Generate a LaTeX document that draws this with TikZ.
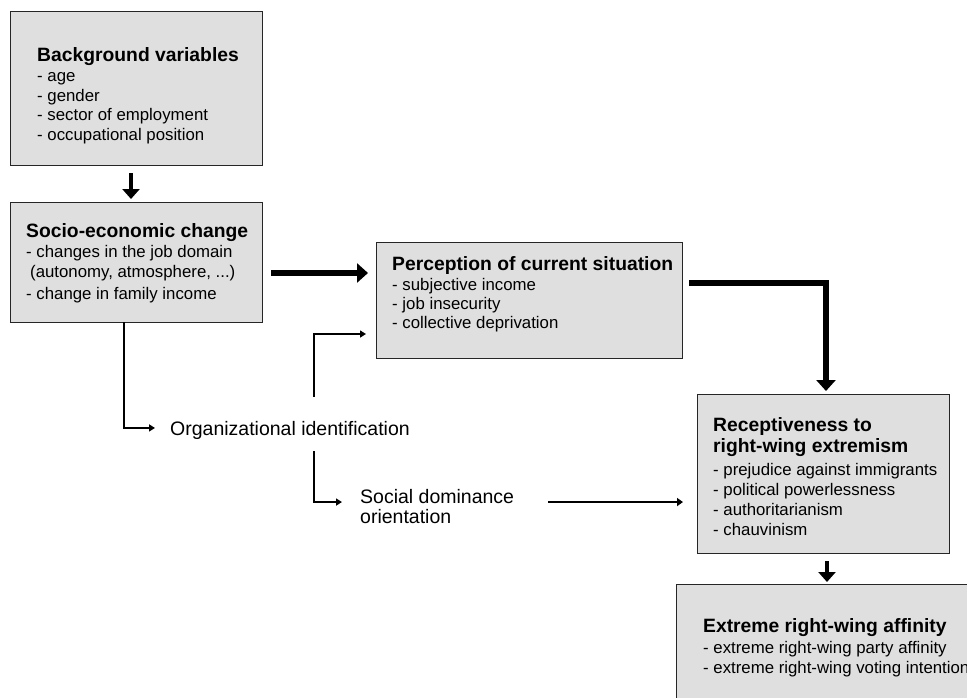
\documentclass[tikz,border=0pt]{standalone}
\usepackage{fontspec}
\setmainfont{Liberation Sans}
\usetikzlibrary{arrows.meta}
\definecolor{boxgray}{HTML}{DFDFDF}
\tikzset{
  box/.style={draw=black!85, fill=boxgray, line width=0.9pt, inner sep=0pt, outer sep=0pt},
  ttl/.style={anchor=base west, inner sep=0pt, font=\fontsize{19.3}{22}\selectfont\bfseries},
  itm/.style={anchor=base west, inner sep=0pt, font=\fontsize{16.8}{20}\selectfont},
  lbl/.style={anchor=base west, inner sep=0pt, font=\fontsize{19.5}{22}\selectfont},
  bigarrow/.style={line width=5.5pt, -{Triangle[width=19pt,length=11pt]}},
  downarrow/.style={line width=3.3pt, -{Triangle[width=17pt,length=10pt]}},
  thinarrow/.style={line width=1.7pt, -{Triangle[width=7pt,length=6pt]}},
  midarrow/.style={line width=2.3pt, -{Triangle[width=8pt,length=6pt]}}
}
\begin{document}
\begin{tikzpicture}[x=1pt,y=-1pt]
\useasboundingbox (0,0) rectangle (967,697);
\fill[white] (0,0) rectangle (967,697);

% boxes
\node[box, minimum width=252pt, minimum height=154pt] (bg) at (136,88) {};
\node[box, minimum width=252pt, minimum height=120pt] (soc) at (136,262) {};
\node[box, minimum width=306pt, minimum height=116pt] (per) at (529,300) {};
\node[box, minimum width=252pt, minimum height=159pt] (rec) at (823,473.5) {};
\node[box, minimum width=320pt, minimum height=140pt] (ext) at (836,654) {};

% background variables
\node[ttl] (bgt) at (37,61) {Background variables};
\node[itm] (bg1) at (37,81) {- age};
\node[itm] (bg2) at (37,101) {- gender};
\node[itm] (bg3) at (37,120.5) {- sector of employment};
\node[itm] (bg4) at (37,140) {- occupational position};

% socio-economic change
\node[ttl] (soct) at (26,237) {Socio-economic change};
\node[itm] (soc1) at (26,257.5) {- changes in the job domain};
\node[itm] (soc2) at (30,277) {(autonomy, atmosphere, ...)};
\node[itm] (soc3) at (26,299) {- change in family income};

% perception
\node[ttl] (pert) at (392,270) {Perception of current situation};
\node[itm] (per1) at (392,290) {- subjective income};
\node[itm] (per2) at (392,309) {- job insecurity};
\node[itm] (per3) at (392,328) {- collective deprivation};

% receptiveness
\node[ttl] (rect1) at (713,431) {Receptiveness to};
\node[ttl] (rect2) at (713,452.5) {right-wing extremism};
\node[itm] (rec1) at (713,475) {- prejudice against immigrants};
\node[itm] (rec2) at (713,495) {- political powerlessness};
\node[itm] (rec3) at (713,515) {- authoritarianism};
\node[itm] (rec4) at (713,535) {- chauvinism};

% extreme right-wing affinity
\node[ttl] (extt) at (703,632) {Extreme right-wing affinity};
\node[itm] (ext1) at (703,653.5) {- extreme right-wing party affinity};
\node[itm] (ext2) at (703,673) {- extreme right-wing voting intention};

% free labels
\node[lbl] (org) at (170,435) {Organizational identification};
\node[lbl] (sdo1) at (360,503) {Social dominance};
\node[lbl] (sdo2) at (360,523) {orientation};

% connectors
\draw[downarrow] ([xshift=-5pt,yshift=-8pt]bg.south) -- ([xshift=-5pt,yshift=3pt]soc.north);
\draw[bigarrow] ([xshift=9pt,yshift=-11pt]soc.east) -- ([xshift=-8pt,yshift=27pt]per.west);
\draw[bigarrow] ([xshift=7pt,yshift=17pt]per.east) -| ([xshift=3pt,yshift=3pt]rec.north);
\draw[downarrow] ([xshift=4pt,yshift=-8pt]rec.south) -- ([xshift=-9pt,yshift=2pt]ext.north);
\draw[thinarrow] ([xshift=-12pt]soc.south) |- ([xshift=-15pt,yshift=2pt]org.west);
\draw[thinarrow] ([xshift=24pt,yshift=24pt]org.north) |- ([xshift=-10pt,yshift=-34pt]per.west);
\draw[thinarrow] ([xshift=24pt,yshift=-12pt]org.south) |- ([xshift=-18pt,yshift=-6pt]sdo1.west);
\coordinate (sdoS) at ([xshift=34pt,yshift=-6pt]sdo1.east);
\draw[midarrow] (sdoS) -- ([xshift=-14pt]sdoS -| rec.west);
\end{tikzpicture}
\end{document}
